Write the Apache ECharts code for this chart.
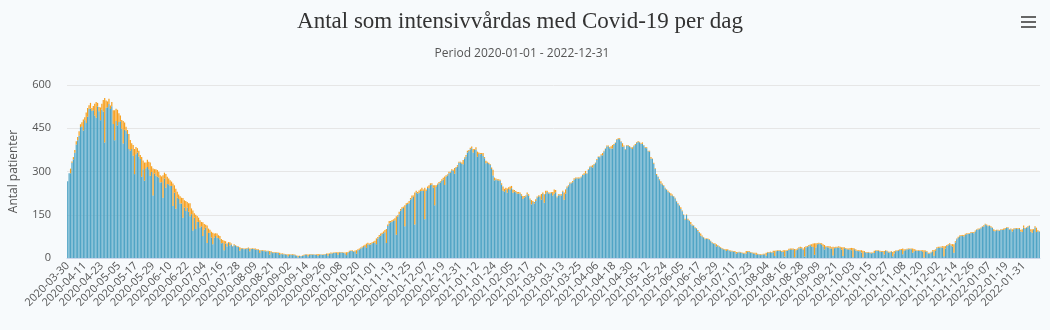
<!DOCTYPE html>
<html>
<head>
<meta charset="utf-8">
<script src="https://cdn.jsdelivr.net/npm/echarts@6/dist/echarts.min.js"></script>
<style>
html,body{margin:0;padding:0;background:#f7fafc;}
#c{width:1050px;height:330px;}
</style>
</head>
<body>
<div id="c"></div>
<script>
// Chart texts
const chartTitle = 'Antal som intensivvårdas med Covid-19 per dag';
const chartSubtitle = 'Period 2020-01-01 - 2022-12-31';
const yAxisName = 'Antal patienter';
const firstDate = '2020-03-30';
const yTicks = [0, 150, 300, 450, 600];

// Blue part of each daily bar (one value per day from 2020-03-30)
const icuBlue = [
266,294,294,330,342,365,394,408,424,454,
457,442,478,468,490,518,518,510,512,494,
486,526,509,478,515,508,401,521,523,
534,517,526,465,408,475,460,472,474,448,
397,445,441,430,378,372,378,355,291,360,
366,352,343,282,308,268,311,316,308,285,
298,217,293,285,282,279,262,263,209,
276,244,257,256,250,250,180,227,171,210,
205,189,189,140,175,163,174,160,145,152,
95,140,101,126,125,106,110,76,98,105,
52,87,88,71,48,70,76,70,69,64,
51,52,27,50,40,
52,43,47,40,44,43,39,38,25,32,
33,30,31,32,34,23,31,31,31,29,
29,28,17,26,24,25,23,23,23,12,
21,17,19,18,17,17,10,14,13,
13,12,11,6,11,11,10,11,9,8,
3,7,6,7,9,11,11,6,11,12,
11,12,10,11,7,11,12,10,11,12,
14,8,14,16,16,17,17,18,11,19,
19,19,17,16,10,18,22,24,24,
21,23,15,27,29,33,36,38,42,35,
48,46,47,51,52,54,48,68,74,77,
83,86,89,
52,111,120,124,126,129,131,81,143,152,
164,171,174,110,184,187,190,203,207,
213,116,227,224,226,232,232,233,134,232,
243,242,253,255,244,183,246,254,259,262,
268,272,253,282,286,294,296,304,303,292,
312,317,330,331,327,325,345,352,366,
371,377,381,366,375,376,351,361,360,361,
354,346,329,331,326,323,309,286,269,272,
270,269,268,254,233,230,236,226,239,236,
242,226,231,228,223,224,223,216,205,
210,213,221,216,202,186,194,189,198,209,
214,212,202,222,192,223,229,
224,223,226,217,223,228,210,217,218,217,
230,202,223,244,249,258,259,263,271,276,
277,276,277,280,288,288,294,292,305,
315,317,314,323,329,340,350,349,356,356,
369,378,387,388,381,380,380,392,399,410,
413,412,403,386,387,376,389,390,385,382,
378,388,392,400,403,401,395,396,390,382,
381,370,369,345,343,327,309,288,281,
270,258,255,250,241,236,230,226,217,217,
213,206,196,187,181,170,162,149,133,149,
133,128,117,113,112,104,102,94,88,77,
75,71,65,66,
66,62,58,52,49,48,40,43,38,35,
32,30,29,24,28,25,23,23,22,21,
15,19,20,19,17,15,16,16,22,21,
19,18,15,16,10,13,12,10,11,12,
13,8,19,18,20,18,20,7,23,
25,24,25,21,22,5,24,25,28,30,
28,30,3,27,29,34,34,34,29,5,
36,38,41,44,40,38,11,36,48,49,
49,46,40,30,38,37,36,33,33,
9,34,35,36,36,35,29,7,34,31,
30,29,30,27,3,30,26,24,23,24,
19,3,21,19,18,19,
17,16,17,17,25,24,25,22,22,21,
12,24,23,19,19,22,6,16,23,
25,25,28,28,13,25,27,30,30,31,
30,18,23,26,25,24,25,24,22,2,
23,22,15,16,19,23,8,25,34,35,
36,36,36,6,33,42,44,48,43,
40,18,54,65,70,75,76,77,75,81,
82,83,84,87,88,86,92,98,99,100,
103,108,109,116,114,110,111,107,104,94,
93,96,95,94,97,98,97,101,105,104,
98,100,92,99,102,101,102,101,92,
90,105,101,105,107,111,92,88,97,106,
90,93,91
];

// Orange part stacked on top of each daily bar
const icuOrange = [
0,0,16,5,8,10,11,12,16,10,
14,38,10,37,30,12,20,10,15,41,
55,12,15,44,20,40,154,25,20,
18,12,15,47,104,43,54,30,20,31,
78,25,14,14,52,37,20,37,87,25,
15,20,14,68,30,63,20,25,26,46,
20,93,15,23,23,20,25,20,78,
20,47,25,20,20,15,78,25,69,20,
15,25,20,68,25,35,20,30,45,20,
70,15,49,20,15,25,15,48,20,10,
61,15,10,20,40,15,10,15,10,12,
15,10,33,8,10,
3,12,3,2,4,2,3,2,12,3,
2,3,2,3,2,10,2,3,2,4,
2,2,10,2,3,2,3,2,2,12,
2,3,2,2,3,2,8,2,3,
2,2,2,7,2,2,3,2,2,1,
5,1,1,2,2,2,2,6,2,2,
2,1,2,2,7,2,1,2,2,2,
2,8,2,3,2,2,3,2,9,2,
2,2,2,3,10,3,3,2,3,
2,3,12,3,4,3,4,5,4,15,
5,4,5,4,5,6,20,5,6,8,
5,6,8,
49,5,8,4,6,5,7,64,5,8,
6,5,4,73,6,5,8,5,10,
4,111,6,5,8,6,12,5,110,6,
5,10,6,4,8,69,6,4,5,4,
5,6,30,5,4,5,3,4,3,20,
4,5,4,3,4,15,4,5,6,
4,5,6,12,3,8,18,5,4,3,
10,4,8,3,4,3,5,20,10,4,
3,4,3,5,15,10,8,15,6,12,
8,12,5,4,6,5,4,5,10,
5,4,6,5,4,15,4,5,6,4,
3,5,20,5,29,10,4,
3,4,3,12,15,8,3,4,3,4,
3,25,15,4,3,4,3,4,6,3,
2,3,2,3,2,6,8,2,3,
2,3,8,3,2,3,2,3,4,8,
3,2,3,2,3,8,12,3,2,3,
2,3,2,12,3,2,3,2,3,2,
6,2,3,2,3,2,3,5,2,3,
3,2,3,5,2,3,2,3,2,
3,8,3,2,3,2,3,2,8,3,
2,3,2,3,2,6,3,2,3,2,
3,2,8,3,2,3,2,3,2,8,
3,2,3,2,
2,3,2,3,2,3,8,2,3,2,
3,2,2,6,2,2,3,2,2,3,
6,2,2,2,2,3,2,8,2,3,
2,2,3,2,8,2,2,3,2,3,
2,10,2,3,2,3,5,18,3,
2,3,2,3,5,22,3,2,4,3,
5,3,28,3,4,3,5,3,4,33,
5,3,4,3,8,12,40,15,3,4,
3,5,8,15,3,4,5,8,4,
30,3,4,3,5,4,8,30,3,4,
3,4,5,8,32,3,4,3,4,3,
8,22,3,2,3,2,
2,3,2,8,2,3,2,3,2,3,
12,3,2,3,3,2,15,8,3,
2,3,2,3,20,5,3,2,3,2,
3,15,8,3,2,3,2,3,5,25,
3,2,3,2,3,4,20,5,3,4,
3,4,5,35,8,3,4,3,5,
8,30,4,3,4,3,4,3,5,3,
4,3,2,3,2,4,3,2,3,2,
3,2,5,3,2,3,2,3,2,6,
3,2,3,2,3,2,5,3,2,3,
2,2,8,3,2,3,2,3,6,
10,8,3,2,3,2,8,12,3,4,
15,3,2
];

// Category labels: one date per day
const dates = [];
(function(){
  const p = firstDate.split('-').map(Number);
  for (let i = 0; i < icuBlue.length; i++) {
    const d = new Date(Date.UTC(p[0], p[1]-1, p[2] + i));
    dates.push(d.toISOString().slice(0,10));
  }
})();

const chart = echarts.init(document.getElementById('c'));
chart.setOption({
  backgroundColor: '#f7fafc',
  animation: false,
  title: [
    {text: chartTitle, left: 515, top: 5, textAlign: 'center',
     textStyle: {fontFamily: 'Liberation Serif', fontSize: 23, fontWeight: 'normal', color: '#333333'}},
    {text: chartSubtitle, left: 517, top: 43, textAlign: 'center',
     textStyle: {fontFamily: 'Open Sans', fontSize: 12, fontWeight: 'normal', color: '#555555'}}
  ],
  graphic: [
    {type: 'rect', shape: {x: 1021, y: 16, width: 15, height: 2}, style: {fill: '#666'}},
    {type: 'rect', shape: {x: 1021, y: 21, width: 15, height: 2}, style: {fill: '#666'}},
    {type: 'rect', shape: {x: 1021, y: 26, width: 15, height: 2}, style: {fill: '#666'}}
  ],
  grid: {left: 60, right: 10, top: 85, bottom: 72, containLabel: false},
  xAxis: {
    type: 'category', data: dates,
    axisLine: {lineStyle: {color: '#ccd6eb'}},
    axisTick: {show: false},
    axisLabel: {interval: 11, rotate: 45, fontSize: 11, color: '#555', fontFamily: 'Open Sans', margin: 6}
  },
  yAxis: {
    type: 'value', min: yTicks[0], max: yTicks[yTicks.length-1], interval: yTicks[1]-yTicks[0],
    name: yAxisName, nameLocation: 'middle', nameGap: 47,
    nameTextStyle: {fontFamily: 'Open Sans', fontSize: 12, color: '#555'},
    axisLine: {show: false}, axisTick: {show: false},
    axisLabel: {fontSize: 11, color: '#555', fontFamily: 'Open Sans', margin: 16},
    splitLine: {lineStyle: {color: '#e6e6e6'}}
  },
  series: [
    {name: 'Blå', type: 'bar', stack: 'icu', data: icuBlue, barCategoryGap: '15%',
     itemStyle: {color: '#50a4c5'}},
    {name: 'Orange', type: 'bar', stack: 'icu', data: icuOrange,
     itemStyle: {color: '#f7a01e'}}
  ]
});
</script>
</body>
</html>
